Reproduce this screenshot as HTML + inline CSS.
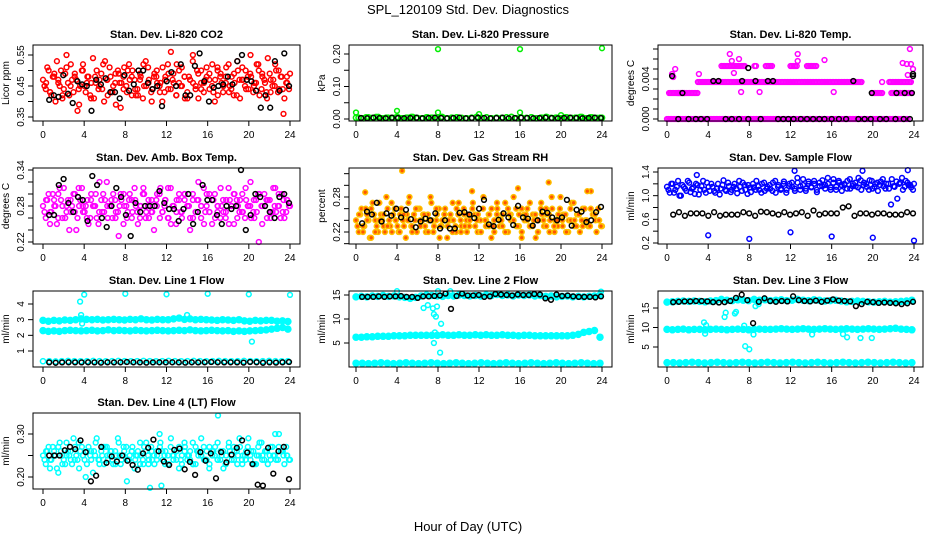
<!DOCTYPE html>
<html><head><meta charset="utf-8">
<style>
html,body{margin:0;padding:0;background:#fff;}
svg{display:block;font-family:"Liberation Sans",sans-serif;}
</style></head>
<body>
<svg id="chart" width="936" height="540" viewBox="0 0 936 540">
<text x="468" y="14" text-anchor="middle" font-size="13">SPL_120109  Std. Dev. Diagnostics</text>
<text x="468" y="531" text-anchor="middle" font-size="13">Hour of Day (UTC)</text>
</svg>
<script>
// ---------- data ----------
const hourTicks = [0,4,8,12,16,20,24];

const co2Red1 = [0.47,0.44,0.50,0.42,0.48,0.53,0.45,0.41,0.49,0.46,0.52,0.43,0.47,0.39,0.50,0.45,0.48,0.42,0.54,0.46,0.44,0.49,0.40,0.47,0.51,0.43,0.46,0.50,0.38,0.48,0.45,0.52,0.42,0.47,0.44,0.49,0.41,0.53,0.46,0.43,0.48,0.50,0.45,0.40,0.47,0.52,0.44,0.49,0.42,0.46,0.51,0.48,0.43,0.47,0.55,0.45,0.41,0.50,0.46,0.48,0.44,0.52,0.47,0.42,0.49,0.45,0.51,0.43,0.48,0.46,0.53,0.41,0.47,0.50,0.44,0.48,0.45,0.52,0.42,0.49,0.46,0.54,0.43,0.47,0.50,0.44,0.48,0.41,0.46,0.49];
const co2Red2 = [0.45,0.51,0.43,0.48,0.40,0.46,0.50,0.44,0.55,0.42,0.47,0.49,0.37,0.45,0.52,0.43,0.48,0.46,0.41,0.50,0.47,0.44,0.53,0.42,0.48,0.45,0.39,0.49,0.46,0.51,0.43,0.47,0.50,0.44,0.42,0.48,0.52,0.45,0.47,0.40,0.49,0.46,0.43,0.51,0.48,0.44,0.56,0.46,0.42,0.50,0.45,0.48,0.41,0.47,0.53,0.44,0.49,0.46,0.43,0.51,0.47,0.45,0.40,0.50,0.48,0.43,0.46,0.52,0.44,0.49,0.42,0.47,0.51,0.45,0.48,0.55,0.43,0.46,0.50,0.44,0.47,0.41,0.49,0.45,0.52,0.43,0.48,0.36,0.46,0.44];
const co2Red3 = [0.46,0.43,0.49,0.47,0.42,0.51,0.45,0.48,0.44,0.50,0.46,0.41,0.48,0.45,0.52,0.47,0.43,0.49,0.46,0.44,0.50,0.48,0.42,0.47,0.45,0.51,0.44,0.48,0.46,0.43,0.49,0.47,0.52,0.45,0.41,0.48,0.46,0.50,0.44,0.47,0.49,0.43,0.51,0.46,0.48,0.45,0.42,0.50,0.47,0.44,0.49,0.46,0.52,0.48,0.43,0.47,0.45,0.50,0.44,0.48];
const co2Black = [0.405,0.42,0.415,0.485,0.425,0.395,0.465,0.455,0.45,0.37,0.47,0.455,0.475,0.43,0.43,0.41,0.485,0.435,0.455,0.50,0.50,0.46,0.44,0.45,0.385,0.465,0.495,0.45,0.52,0.42,0.42,0.515,0.555,0.465,0.40,0.445,0.45,0.455,0.48,0.455,0.53,0.55,0.47,0.465,0.435,0.38,0.42,0.38,0.53,0.435,0.555,0.45];

const presGreen = [0.004,0.002,0.005,0.003,0.006,0.002,0.004,0.003,0.005,0.002,0.004,0.006,0.003,0.002,0.005,0.004,0.003,0.006,0.002,0.004,0.005,0.003,0.002,0.004,0.006,0.003,0.005,0.002,0.004,0.003,0.005,0.006,0.002,0.004,0.003,0.005,0.002,0.004,0.006,0.003,0.004,0.002,0.005,0.003,0.004,0.006,0.002,0.005,0.003,0.004];
const presOutlierHours = [0,4,8,12,16,20,8,16,24];
const presOutlierValues = [0.020,0.025,0.020,0.015,0.020,0.012,0.215,0.215,0.218];
const presBlack = [0.003,0.002,0.004,0.003,0.002,0.004,0.003,0.002,0.003,0.004,0.002,0.003,0.004,0.003,0.002,0.003,0.004,0.002,0.003,0.004,0.003,0.002,0.003,0.004,0.002,0.003,0.004,0.003,0.002,0.003,0.004,0.003,0.002,0.003,0.004,0.003,0.002,0.003,0.004,0.003];

// Li-820 temp: quantized levels drawn as runs (start hour, end hour, level)
const tempRunStart = [0.0,0.2,1.0,3.0,20.0,21.6,21.8,5.3,8.5,9.6,12.0,13.6];
const tempRunEnd   = [23.5,1.8,3.0,19.0,21.0,23.8,23.8,7.6,8.7,10.3,12.6,14.5];
const tempRunLevel = [0.0,0.0026,0.0026,0.0037,0.0026,0.0037,0.0026,0.0053,0.0053,0.0053,0.0053,0.0053];
const tempSpotHours = [0.6,0.8,0.5,3.1,6.1,6.3,6.5,7.0,7.2,9.0,12.7,12.7,15.3,16.2,20.9,22.9,23.3,23.6,23.7,23.9,23.4];
const tempSpotValues = [0.0042,0.0050,0.0045,0.0045,0.0065,0.0058,0.0046,0.0060,0.0027,0.0027,0.0065,0.0058,0.0059,0.0027,0.0037,0.0056,0.0055,0.0070,0.0055,0.0050,0.0044];
const tempBlackHours = [1.1,2.1,2.8,3.3,3.9,5.7,6.3,7.0,7.9,9.1,10.8,11.3,11.8,12.3,13.0,13.6,14.2,14.8,15.3,16.0,16.7,17.4,18.6,19.2,19.8,20.7,21.3,22.2,23.0,23.6,0.5,1.5,4.5,5.0,7.3,8.6,9.8,10.3,18.1,19.9,22.3,23.1,23.8,23.9,7.9,23.9];
const tempBlackValues = [0,0,0,0,0,0,0,0,0,0,0,0,0,0,0,0,0,0,0,0,0,0,0,0,0,0,0,0,0,0,0.0043,0.0026,0.0038,0.0038,0.0038,0.0038,0.0038,0.0038,0.0038,0.0026,0.0026,0.0026,0.0026,0.0043,0.0051,0.0045];

const ambMag1 = [0.28,0.26,0.30,0.27,0.29,0.25,0.31,0.28,0.26,0.29,0.27,0.30,0.24,0.28,0.31,0.27,0.29,0.26,0.28,0.30,0.25,0.29,0.27,0.32,0.28,0.26,0.29,0.27,0.30,0.25,0.28,0.29,0.26,0.31,0.27,0.28,0.30,0.26,0.29,0.27,0.24,0.28,0.30,0.27,0.29,0.26,0.31,0.28,0.25,0.29,0.27,0.30,0.28,0.26,0.29,0.27,0.32,0.28,0.25,0.30,0.27,0.29,0.26,0.28,0.31,0.27,0.29,0.25,0.28,0.30,0.26,0.29,0.27,0.31,0.28,0.26,0.29,0.27,0.30,0.25,0.28,0.29,0.26,0.31,0.27,0.28,0.30,0.26,0.29,0.28];
const ambMag2 = [0.27,0.29,0.25,0.30,0.28,0.26,0.29,0.31,0.27,0.24,0.28,0.30,0.26,0.29,0.27,0.28,0.25,0.30,0.28,0.26,0.32,0.27,0.29,0.26,0.28,0.30,0.27,0.23,0.29,0.28,0.26,0.30,0.27,0.29,0.25,0.28,0.31,0.27,0.26,0.29,0.28,0.30,0.26,0.27,0.29,0.31,0.25,0.28,0.27,0.30,0.26,0.29,0.28,0.24,0.30,0.27,0.29,0.26,0.31,0.28,0.27,0.25,0.30,0.28,0.26,0.29,0.27,0.31,0.28,0.25,0.29,0.27,0.30,0.26,0.28,0.32,0.27,0.29,0.22,0.28,0.30,0.26,0.29,0.27,0.31,0.28,0.26,0.29,0.27,0.28];
const ambMag3 = [0.29,0.27,0.28,0.30,0.26,0.28,0.29,0.27,0.31,0.28,0.26,0.29,0.28,0.27,0.30,0.28,0.29,0.26,0.28,0.30,0.27,0.29,0.28,0.26,0.30,0.28,0.27,0.29,0.31,0.28,0.26,0.28,0.29,0.27,0.30,0.28,0.26,0.29,0.28,0.27,0.30,0.29,0.27,0.28,0.26,0.29,0.30,0.28,0.27,0.29,0.28,0.26,0.30,0.28,0.29,0.27,0.28,0.30,0.27,0.29];
const ambBlack = [0.265,0.265,0.315,0.325,0.285,0.27,0.295,0.29,0.255,0.33,0.315,0.26,0.245,0.28,0.31,0.295,0.265,0.23,0.285,0.27,0.28,0.28,0.28,0.305,0.285,0.275,0.275,0.255,0.275,0.30,0.25,0.27,0.315,0.29,0.29,0.265,0.25,0.28,0.275,0.28,0.34,0.24,0.265,0.30,0.295,0.28,0.27,0.26,0.295,0.30,0.285];

const rhOrange1 = [0.24,0.22,0.26,0.23,0.25,0.21,0.27,0.24,0.22,0.25,0.23,0.28,0.24,0.22,0.26,0.23,0.25,0.24,0.21,0.27,0.23,0.25,0.22,0.26,0.24,0.23,0.25,0.28,0.22,0.24,0.26,0.23,0.25,0.21,0.24,0.27,0.23,0.25,0.22,0.26,0.24,0.23,0.29,0.25,0.22,0.24,0.26,0.23,0.25,0.21,0.24,0.27,0.23,0.25,0.22,0.26,0.24,0.28,0.23,0.25,0.22,0.24,0.26,0.23,0.25,0.21,0.24,0.27,0.23,0.25,0.22,0.26,0.24,0.23,0.28,0.25,0.22,0.24,0.27,0.23,0.25,0.22,0.26,0.24,0.23,0.29,0.25,0.22,0.24,0.23];
const rhOrange2 = [0.23,0.25,0.22,0.26,0.24,0.21,0.25,0.23,0.27,0.24,0.22,0.26,0.23,0.25,0.24,0.22,0.26,0.23,0.25,0.28,0.22,0.24,0.26,0.23,0.25,0.22,0.24,0.27,0.23,0.25,0.21,0.24,0.26,0.23,0.25,0.24,0.22,0.27,0.23,0.25,0.22,0.24,0.26,0.23,0.25,0.22,0.28,0.24,0.23,0.26,0.22,0.25,0.24,0.23,0.27,0.22,0.25,0.24,0.26,0.23,0.21,0.25,0.24,0.27,0.23,0.25,0.22,0.26,0.24,0.23,0.25,0.28,0.22,0.24,0.26,0.23,0.25,0.22,0.24,0.27,0.23,0.25,0.24,0.26,0.29,0.23,0.25,0.24,0.26,0.23];
const rhOrange3 = [0.25,0.23,0.24,0.26,0.22,0.24,0.25,0.23,0.27,0.24,0.22,0.25,0.24,0.23,0.26,0.24,0.25,0.22,0.24,0.26,0.23,0.25,0.24,0.22,0.26,0.24,0.23,0.25,0.27,0.24,0.22,0.24,0.25,0.23,0.26,0.24,0.22,0.25,0.24,0.23,0.26,0.25,0.23,0.24,0.22,0.25,0.26,0.24,0.23,0.25,0.24,0.22,0.26,0.24,0.25,0.23,0.24,0.26,0.25,0.24];
const rhOutlierHours = [0.9,4.5,15.8,18.8];
const rhOutlierValues = [0.288,0.325,0.295,0.305];
const rhBlack = [0.235,0.255,0.25,0.27,0.238,0.252,0.248,0.26,0.245,0.258,0.242,0.228,0.238,0.243,0.24,0.252,0.226,0.24,0.226,0.226,0.253,0.254,0.25,0.244,0.26,0.275,0.233,0.23,0.241,0.252,0.245,0.232,0.265,0.245,0.243,0.231,0.24,0.255,0.253,0.245,0.24,0.245,0.275,0.231,0.258,0.255,0.237,0.24,0.254,0.263];

const flowBlue1 = [1.15,1.05,1.20,1.10,1.25,1.00,1.15,1.08,1.22,1.12,1.03,1.18,1.10,1.25,1.05,1.15,1.20,1.08,1.12,1.02,1.18,1.10,1.22,1.06,1.15,1.12,1.25,1.08,1.18,1.03,1.14,1.20,1.10,1.16,1.05,1.22,1.12,1.18,1.08,1.25,1.15,1.10,1.20,1.05,1.16,1.22,1.12,1.30,1.10,1.18,1.08,1.24,1.14,1.20,1.06,1.16,1.26,1.12,1.20,1.10,1.28,1.15,1.22,1.08,1.18,1.25,1.12,1.20,1.16,1.30,1.10,1.22,1.15,1.26,1.12,1.20,1.08,1.24,1.16,1.20,1.12,1.28,1.15,0.95,1.22,1.10,1.25,1.18,1.14,1.20];
const flowBlue2 = [1.10,1.20,1.05,1.15,1.00,1.18,1.12,1.25,1.06,1.14,1.20,1.02,1.16,1.10,1.22,1.08,1.15,1.05,1.20,1.12,1.26,1.08,1.16,1.10,1.20,1.04,1.15,1.22,1.10,1.18,1.06,1.14,1.25,1.10,1.20,1.08,1.15,1.12,1.22,1.05,1.18,1.12,1.24,1.10,1.20,1.15,1.08,1.22,1.16,1.28,1.12,1.20,1.15,1.25,1.10,1.22,1.16,1.18,1.30,1.14,1.22,1.10,1.25,1.18,1.20,1.12,1.28,1.16,1.22,1.14,1.26,1.18,1.20,1.10,1.25,1.15,1.22,1.18,1.28,1.12,1.20,0.85,1.16,1.24,1.20,1.30,1.15,1.22,1.18,1.10];
const flowOutlierHours = [2.9,4.0,8.0,12.0,12.4,16.0,19.0,20.0,23.4,24.0];
const flowOutlierValues = [1.35,0.33,0.27,0.38,1.42,0.31,1.42,0.29,1.43,0.24];
const flowBlack = [0.68,0.72,0.66,0.70,0.70,0.70,0.66,0.72,0.66,0.68,0.68,0.68,0.72,0.70,0.66,0.73,0.72,0.70,0.68,0.72,0.68,0.70,0.72,0.66,0.75,0.68,0.70,0.70,0.70,0.80,0.82,0.66,0.70,0.70,0.68,0.70,0.70,0.68,0.68,0.68,0.72,0.70];

const line1Top = [2.95,2.90,2.95,2.92,2.98,2.95,3.00,3.05,3.02,3.00,3.02,2.98,3.00,3.02,3.00,2.98,3.02,3.00,3.05,3.00,2.98,3.02,3.00,3.00,3.05,3.10,3.02,3.05,3.00,3.02,3.00,2.98,2.95,3.00,2.98,2.95,3.00,2.92,2.90,2.95,2.92,2.95,2.95,2.90,2.92,2.88];
const line1Mid = [2.30,2.25,2.28,2.25,2.30,2.32,2.30,2.28,2.30,2.32,2.28,2.30,2.35,2.30,2.32,2.30,2.28,2.32,2.30,2.28,2.30,2.32,2.30,2.28,2.30,2.32,2.30,2.35,2.30,2.28,2.30,2.32,2.30,2.28,2.30,2.25,2.28,2.25,2.28,2.30,2.32,2.35,2.40,2.45,2.50,2.40];
const line1Low = [0.35,0.35,0.33,0.35,0.36,0.35,0.34,0.35,0.36,0.35,0.34,0.35,0.36,0.35,0.34,0.35,0.36,0.35,0.34,0.35,0.36,0.35,0.34,0.35,0.36,0.35,0.34,0.35,0.36,0.35,0.34,0.35,0.36,0.35,0.34,0.35,0.36,0.35,0.34,0.35];
const line1OutlierHours = [3.6,3.7,3.8,4.0,8.0,12.0,14.0,16.0,20.0,20.3,24.0];
const line1OutlierValues = [4.15,3.30,2.75,4.60,4.65,4.62,3.30,4.65,4.62,1.60,4.58];
const line1Black = [0.27,0.25,0.27,0.28,0.27,0.27,0.28,0.27,0.26,0.28,0.27,0.28,0.30,0.28,0.27,0.26,0.27,0.28,0.27,0.28,0.27,0.26,0.28,0.27,0.28,0.30,0.28,0.27,0.28,0.27,0.26,0.30,0.28,0.25,0.27,0.26,0.28,0.30];

const line2Top = [14.6,14.7,14.6,14.8,14.7,14.9,14.7,14.8,14.6,14.5,14.3,14.5,14.8,15.0,14.9,14.8,14.7,14.9,14.8,15.0,14.9,14.8,14.9,14.8,15.0,14.9,15.1,14.9,15.0,14.8,15.0,14.9,15.0,14.8,14.9,14.7,14.8,14.6,14.7,14.8,14.6,14.7,14.6,14.7,14.8,15.0];
const line2Mid = [6.2,6.2,6.3,6.3,6.4,6.4,6.4,6.5,6.5,6.5,6.6,6.6,6.6,6.6,6.6,6.6,6.7,6.6,6.6,6.7,6.6,6.6,6.7,6.6,6.7,6.6,6.6,6.7,6.6,6.6,6.5,6.6,6.6,6.5,6.5,6.5,6.5,6.5,6.5,6.5,6.6,6.8,7.2,7.4,7.6,6.2];
const line2Low = [0.8,0.8,0.7,0.8,0.9,0.8,0.7,0.8,0.9,0.8,0.7,0.8,0.9,0.8,0.7,0.8,0.9,0.8,0.7,0.8,0.9,0.8,0.7,0.8,0.9,0.8,0.7,0.8,0.9,0.8,0.7,0.8,0.9,0.8,0.7,0.8,0.9,0.8,0.7,0.8];
const line2OutlierHours = [4.0,6.6,7.0,7.5,7.6,7.7,7.8,7.9,8.2,8.3,8.0,7.6,9.2,23.9];
const line2OutlierValues = [15.8,12.3,12.9,12.2,11.0,7.2,10.5,12.6,3.0,9.0,15.8,5.0,15.8,15.7];
const line2Black = [14.6,14.6,14.6,14.7,14.6,14.7,14.7,14.8,14.6,14.6,14.4,14.7,14.7,14.8,14.9,15.3,12.1,14.8,15.3,14.9,14.9,15.0,14.6,14.7,15.2,15.1,15.0,14.9,15.1,15.0,15.0,15.2,15.1,14.3,14.0,15.1,14.8,14.9,14.7,14.6,14.6,14.6,14.5,14.7];

const line3Top = [16.5,16.6,16.7,16.8,16.7,16.8,16.7,16.6,16.8,16.9,17.2,17.0,16.9,17.1,17.0,16.9,17.2,17.0,17.1,16.9,17.0,17.1,16.9,17.0,17.2,17.0,16.9,17.1,17.0,16.8,16.9,17.0,16.8,16.6,16.7,16.8,16.7,16.6,16.5,16.6,16.7,16.5,16.6,16.7,16.8,17.0];
const line3Mid = [9.5,9.4,9.5,9.6,9.4,9.5,9.5,9.4,9.5,9.6,9.5,9.4,9.5,9.6,9.5,9.4,9.5,9.6,9.5,9.5,9.6,9.7,9.6,9.5,9.6,9.7,9.6,9.5,9.6,9.7,9.6,9.5,9.6,9.7,9.6,9.5,9.6,9.7,9.6,9.5,9.6,9.7,9.8,9.6,9.5,9.4];
const line3Low = [1.0,1.0,0.9,1.0,1.1,1.0,0.9,1.0,1.1,1.0,0.9,1.0,1.1,1.0,0.9,1.0,1.1,1.0,0.9,1.0,1.1,1.0,0.9,1.0,1.1,1.0,0.9,1.0,1.1,1.0,0.9,1.0,1.1,1.0,0.9,1.0,1.1,1.0,0.9,1.0];
const line3OutlierHours = [3.6,3.7,3.8,5.6,5.7,6.6,6.7,7.5,7.6,8.0,8.4,8.6,8.9,14.1,17.1,17.5,18.8,19.9];
const line3OutlierValues = [11.3,8.4,10.6,12.7,13.8,13.6,14.0,10.5,5.2,4.4,8.2,15.5,16.0,8.2,8.3,7.5,7.3,7.3];
const line3Black = [16.5,16.6,16.7,16.7,16.8,16.8,16.7,16.5,16.4,16.5,16.8,17.6,18.4,17.0,11.1,16.6,17.5,16.8,16.6,16.8,16.7,18.0,17.0,16.8,16.7,16.9,16.6,16.9,17.2,16.9,16.8,16.7,15.5,16.0,16.6,16.5,16.3,16.4,16.3,16.2,16.0,16.2,16.6];

const line4Cyan1 = [0.25,0.23,0.27,0.24,0.26,0.22,0.28,0.25,0.23,0.26,0.24,0.29,0.25,0.22,0.27,0.24,0.26,0.25,0.21,0.28,0.24,0.26,0.23,0.27,0.25,0.24,0.26,0.29,0.23,0.25,0.27,0.24,0.26,0.22,0.25,0.28,0.24,0.26,0.23,0.27,0.25,0.24,0.30,0.26,0.23,0.25,0.27,0.24,0.26,0.22,0.25,0.28,0.24,0.26,0.23,0.27,0.25,0.29,0.24,0.26,0.23,0.25,0.27,0.24,0.26,0.22,0.25,0.28,0.24,0.26,0.23,0.27,0.25,0.24,0.29,0.26,0.23,0.25,0.28,0.24,0.26,0.23,0.27,0.25,0.24,0.30,0.26,0.23,0.25,0.24];
const line4Cyan2 = [0.24,0.26,0.22,0.27,0.25,0.21,0.26,0.24,0.28,0.25,0.23,0.27,0.24,0.26,0.25,0.20,0.27,0.24,0.26,0.29,0.23,0.25,0.27,0.24,0.26,0.23,0.25,0.28,0.24,0.26,0.19,0.25,0.27,0.24,0.26,0.25,0.23,0.28,0.24,0.26,0.23,0.25,0.27,0.24,0.26,0.23,0.29,0.25,0.24,0.27,0.23,0.26,0.25,0.24,0.28,0.23,0.26,0.25,0.27,0.24,0.22,0.26,0.25,0.28,0.24,0.26,0.23,0.27,0.25,0.24,0.26,0.29,0.23,0.25,0.27,0.24,0.26,0.23,0.25,0.28,0.24,0.26,0.25,0.27,0.30,0.24,0.26,0.25,0.27,0.24];
const line4Cyan3 = [0.26,0.24,0.25,0.27,0.23,0.25,0.26,0.24,0.28,0.25,0.23,0.26,0.25,0.24,0.27,0.25,0.26,0.23,0.25,0.27,0.24,0.26,0.25,0.23,0.27,0.25,0.24,0.26,0.28,0.25,0.23,0.25,0.26,0.24,0.27,0.25,0.23,0.26,0.25,0.24,0.27,0.26,0.24,0.25,0.23,0.26,0.27,0.25,0.24,0.26,0.25,0.23,0.27,0.25,0.26,0.24,0.25,0.27,0.26,0.25];
const line4OutlierHours = [10.4,11.5,17.0];
const line4OutlierValues = [0.175,0.18,0.343];
const line4Black = [0.25,0.25,0.25,0.262,0.27,0.265,0.285,0.258,0.19,0.203,0.27,0.233,0.248,0.236,0.25,0.238,0.228,0.217,0.255,0.268,0.287,0.26,0.236,0.228,0.263,0.266,0.218,0.235,0.205,0.258,0.238,0.255,0.197,0.258,0.234,0.252,0.268,0.285,0.257,0.23,0.182,0.18,0.268,0.208,0.26,0.27,0.195];

// ---------- drawing ----------
const NS = 'http://www.w3.org/2000/svg';
const svg = document.getElementById('chart');

function el(tag, attrs, parent){
  const e = document.createElementNS(NS, tag);
  for (const k in attrs) e.setAttribute(k, attrs[k]);
  (parent||svg).appendChild(e);
  return e;
}

function makePanel(p){
  const g = el('g', {});
  
  
  const xs = h => p.x0 + h * (p.x24 - p.x0) / 24;
  const ys = v => p.py1 + (v - p.v1) * (p.py2 - p.py1) / (p.v2 - p.v1);
  const t = el('text', {x:(p.L+p.R)/2, y:p.T-7, 'text-anchor':'middle', 'font-size':11, 'font-weight':'bold'}, g);
  t.textContent = p.title;
  
  
  const ym = (p.T+p.B)/2;
  const yt = el('text', {x:p.L-24, y:ym, 'text-anchor':'middle', 'font-size':10, transform:`rotate(-90 ${p.L-24} ${ym})`}, g);
  yt.textContent = p.ylab;
  
  
  const sg = el('g', {}, g);
  (p.runs||[]).forEach(run => {
    run.start.forEach((st, k) => {
      for (let h = st; h <= run.end[k] + 1e-9; h += 0.15) {
        const c = el('circle', {cx:xs(h).toFixed(1), cy:ys(run.level[k]).toFixed(1), r:2.4, fill:'none', stroke:run.color, 'stroke-width':1.5}, sg);
        
        
      }
    });
  });
  p.series.forEach(s => {
    const n = s.values.length;
    s.values.forEach((v, i) => {
      const h = s.hours ? s.hours[i] : s.start + i * (s.end - s.start) / Math.max(1, n - 1);
      const c = el('circle', {cx:xs(h).toFixed(1), cy:ys(v).toFixed(1), r:s.r||2.4, fill:s.fill||'none', stroke:s.color, 'stroke-width':s.sw||1.5}, sg);
      
      
    });
  });
  const box = el('rect', {x:p.L, y:p.T, width:p.R-p.L, height:p.B-p.T, fill:'none', stroke:'#000', 'stroke-width':1}, g);
  
  
  const xa = el('g', {}, g);
  
  
  el('line', {x1:xs(hourTicks[0]), x2:xs(hourTicks[hourTicks.length-1]), y1:p.B, y2:p.B, stroke:'#000'}, xa);
  hourTicks.forEach(h => {
    el('line', {x1:xs(h), x2:xs(h), y1:p.B, y2:p.B+5, stroke:'#000'}, xa);
    const tl = el('text', {x:xs(h), y:p.B+17, 'text-anchor':'middle', 'font-size':10}, xa);
    tl.textContent = h;
  });
  const ya = el('g', {}, g);
  
  
  el('line', {x1:p.L, x2:p.L, y1:ys(p.yticks[0]), y2:ys(p.yticks[p.yticks.length-1]), stroke:'#000'}, ya);
  p.yticks.forEach(v => {
    el('line', {x1:p.L-5, x2:p.L, y1:ys(v), y2:ys(v), stroke:'#000'}, ya);
  });
  p.ylabels.forEach((lab, i) => {
    const y = ys(p.ylabelVals[i]);
    const tl = el('text', {x:p.L-9, y:y, 'text-anchor':'middle', 'font-size':10, transform:`rotate(-90 ${p.L-9} ${y})`}, ya);
    tl.textContent = lab;
  });
}

const C1 = {L:33, R:300, x0:43, x24:290};
const C2 = {L:349, R:612, x0:356, x24:602};
const C3 = {L:658, R:923, x0:667, x24:914};
const R1 = {T:45, B:121}, R2 = {T:168, B:244}, R3 = {T:291, B:367}, R4 = {T:413, B:489};
const RED='#ff0000', BLK='#000000', GRN='#00ee00', MAG='#ff00ff', BLU='#0000ff', CYN='#00ffff', ORG='#ffc000';

makePanel(Object.assign({}, C1, R1, {name:'co2', title:'Stan. Dev. Li-820 CO2', ylab:'Licor ppm',
  v1:0.35, py1:117, v2:0.55, py2:55, yticks:[0.35,0.40,0.45,0.50,0.55], ylabels:['0.35','0.45','0.55'], ylabelVals:[0.35,0.45,0.55],
  series:[{values:co2Red1,start:0,end:24,color:RED},{values:co2Red2,start:0.15,end:23.9,color:RED},{values:co2Red3,start:0.3,end:23.7,color:RED},{values:co2Black,start:0.6,end:23.9,color:BLK}]}));
makePanel(Object.assign({}, C2, R1, {name:'pressure', title:'Stan. Dev. Li-820 Pressure', ylab:'kPa',
  v1:0, py1:119, v2:0.20, py2:54, yticks:[0,0.05,0.10,0.15,0.20], ylabels:['0.00','0.10','0.20'], ylabelVals:[0,0.10,0.20],
  series:[{values:presGreen,start:0,end:24,color:GRN,r:2.6},{values:presGreen,start:0.25,end:23.8,color:GRN,r:2.6},{values:presOutlierValues,hours:presOutlierHours,color:GRN},{values:presBlack,start:0.5,end:23.9,color:BLK}]}));
makePanel(Object.assign({}, C3, R1, {name:'li820-temp', title:'Stan. Dev. Li-820 Temp.', ylab:'degrees C',
  v1:0, py1:119, v2:0.004, py2:79, yticks:[0,0.001,0.002,0.003,0.004,0.005,0.006,0.007], ylabels:['0.000','0.004'], ylabelVals:[0,0.004],
  runs:[{start:tempRunStart,end:tempRunEnd,level:tempRunLevel,color:MAG}],
  series:[{values:tempSpotValues,hours:tempSpotHours,color:MAG}]}));
makePanel(Object.assign({}, C1, R2, {name:'amb-box-temp', title:'Stan. Dev. Amb. Box Temp.', ylab:'degrees C',
  v1:0.22, py1:242, v2:0.34, py2:170, yticks:[0.22,0.24,0.26,0.28,0.30,0.32,0.34], ylabels:['0.22','0.28','0.34'], ylabelVals:[0.22,0.28,0.34],
  series:[{values:ambMag1,start:0,end:24,color:MAG},{values:ambMag2,start:0.15,end:23.9,color:MAG},{values:ambMag3,start:0.3,end:23.7,color:MAG},{values:ambBlack,start:0.6,end:23.9,color:BLK}]}));
makePanel(Object.assign({}, C2, R2, {name:'gas-stream-rh', title:'Stan. Dev. Gas Stream RH', ylab:'percent',
  v1:0.22, py1:232, v2:0.28, py2:197, yticks:[0.20,0.22,0.24,0.26,0.28,0.30,0.32], ylabels:['0.22','0.28'], ylabelVals:[0.22,0.28],
  series:[{values:rhOrange1,start:0,end:24,color:ORG,fill:'#ff5500'},{values:rhOrange2,start:0.15,end:23.9,color:ORG,fill:'#ff5500'},{values:rhOrange3,start:0.3,end:23.7,color:ORG,fill:'#ff5500'},{values:rhOutlierValues,hours:rhOutlierHours,color:ORG,fill:'#ff5500'},{values:rhBlack,start:0.6,end:23.9,color:BLK}]}));
makePanel(Object.assign({}, C3, R2, {name:'sample-flow', title:'Stan. Dev. Sample Flow', ylab:'ml/min',
  v1:0.2, py1:243, v2:1.4, py2:172, yticks:[0.2,0.4,0.6,0.8,1.0,1.2,1.4], ylabels:['0.2','0.6','1.0','1.4'], ylabelVals:[0.2,0.6,1.0,1.4],
  series:[{values:flowBlue1,start:0,end:24,color:BLU},{values:flowBlue2,start:0.15,end:23.9,color:BLU},{values:flowOutlierValues,hours:flowOutlierHours,color:BLU},{values:flowBlack,start:0.6,end:23.9,color:BLK}]}));
makePanel(Object.assign({}, C1, R3, {name:'line1-flow', title:'Stan. Dev. Line 1 Flow', ylab:'ml/min',
  v1:1, py1:351, v2:4, py2:304, yticks:[1,2,3,4], ylabels:['1','2','3','4'], ylabelVals:[1,2,3,4],
  series:[{values:line1Top,start:0,end:23.8,color:CYN,r:3,fill:CYN},{values:line1Mid,start:0,end:23.8,color:CYN,r:3,fill:CYN},{values:line1Low,start:0,end:23.8,color:CYN,r:2.6},{values:line1OutlierValues,hours:line1OutlierHours,color:CYN},{values:line1Black,start:0.6,end:23.9,color:BLK}]}));
makePanel(Object.assign({}, C2, R3, {name:'line2-flow', title:'Stan. Dev. Line 2 Flow', ylab:'ml/min',
  v1:5, py1:343, v2:15, py2:295, yticks:[5,10,15], ylabels:['5','10','15'], ylabelVals:[5,10,15],
  series:[{values:line2Top,start:0,end:23.8,color:CYN,r:3,fill:CYN},{values:line2Mid,start:0,end:23.8,color:CYN,r:3,fill:CYN},{values:line2Low,start:0,end:23.8,color:CYN,r:3,fill:CYN},{values:line2OutlierValues,hours:line2OutlierHours,color:CYN},{values:line2Black,start:0.6,end:23.9,color:BLK}]}));
makePanel(Object.assign({}, C3, R3, {name:'line3-flow', title:'Stan. Dev. Line 3 Flow', ylab:'ml/min',
  v1:5, py1:347, v2:15, py2:308, yticks:[5,10,15], ylabels:['5','10','15'], ylabelVals:[5,10,15],
  series:[{values:line3Top,start:0,end:23.8,color:CYN,r:3,fill:CYN},{values:line3Mid,start:0,end:23.8,color:CYN,r:3,fill:CYN},{values:line3Low,start:0,end:23.8,color:CYN,r:3,fill:CYN},{values:line3OutlierValues,hours:line3OutlierHours,color:CYN},{values:line3Black,start:0.6,end:23.9,color:BLK}]}));
makePanel(Object.assign({}, C1, R4, {name:'line4-flow', title:'Stan. Dev. Line 4 (LT) Flow', ylab:'ml/min',
  v1:0.20, py1:477, v2:0.30, py2:434, yticks:[0.20,0.25,0.30], ylabels:['0.20','0.30'], ylabelVals:[0.20,0.30],
  series:[{values:line4Cyan1,start:0,end:24,color:CYN},{values:line4Cyan2,start:0.15,end:23.9,color:CYN},{values:line4Cyan3,start:0.3,end:23.7,color:CYN},{values:line4OutlierValues,hours:line4OutlierHours,color:CYN},{values:line4Black,start:0.6,end:23.9,color:BLK}]}));

(function(){
  const xs = h => C3.x0 + h * (C3.x24 - C3.x0) / 24;
  const ys = v => 119 + v * (79 - 119) / 0.004;
  tempBlackValues.forEach((v, i) => {
    const c = el('circle', {cx:xs(tempBlackHours[i]).toFixed(1), cy:ys(v).toFixed(1), r:2.4, fill:'none', stroke:BLK, 'stroke-width':1.5});
    
    
  });
})();
</script>
</body></html>
